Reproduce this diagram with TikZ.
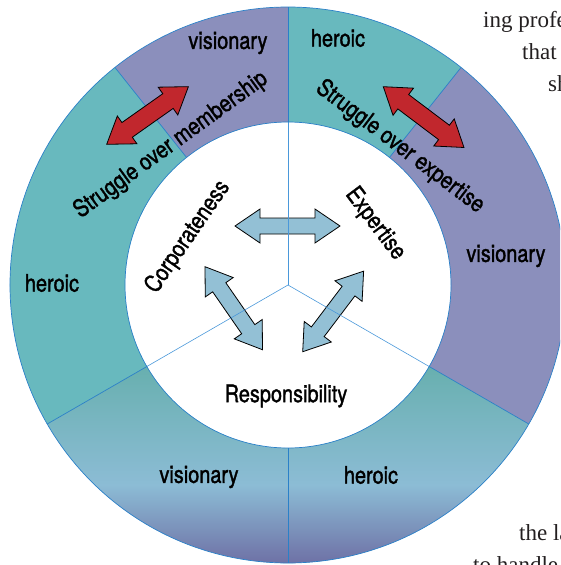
\documentclass[tikz,border=0pt]{standalone}
\usepackage{fontspec}
\setmainfont{Liberation Serif}
\newfontfamily\cn{TeX Gyre Heros}[FakeStretch=0.83, FakeBold=1.4]
\usetikzlibrary{calc}
\definecolor{ringteal}{HTML}{68B9BE}
\definecolor{ringpurp}{HTML}{8B8FBC}
\definecolor{gradtop}{HTML}{66AFAD}
\definecolor{gradmid}{HTML}{8CBCD5}
\definecolor{gradbot}{HTML}{6D6EA4}
\definecolor{edgeblue}{HTML}{2A80C8}
\definecolor{spokeblue}{HTML}{4A98DA}
\definecolor{redarr}{HTML}{C1272D}
\definecolor{bluearr}{HTML}{93C0D5}
\definecolor{ink}{HTML}{231F20}
\tikzset{
  lab/.style={font=\cn\fontsize{24}{28}\selectfont, inner sep=0pt, text=black},
  bgtext/.style={font=\fontsize{23}{28}\selectfont, inner sep=0pt, anchor=base west, text=ink},
  redarrow/.style={fill=redarr, draw=black, line width=0.8pt},
  bluearrow/.style={fill=bluearr, draw=black, line width=0.8pt},
  divline/.style={draw=edgeblue, line width=0.7pt},
  spoke/.style={draw=spokeblue, line width=0.6pt},
  pics/dblarrow/.style 2 args={code={
    \coordinate (-a) at (0,0);
    \coordinate (-b) at (#1,0);
    \draw[pic actions] (0,0) -- (25,17) -- (25,#2) -- (#1-25,#2) -- (#1-25,17)
      -- (#1,0) -- (#1-25,-17) -- (#1-25,-#2) -- (25,-#2) -- (25,-17) -- cycle;
  }}
}
\newcommand\ringsector[3]{%
  \fill[#3] ($(c)+(#1:278)$) arc[start angle=#1,end angle=#2,radius=278]
    -- ($(c)+(#2:163)$) arc[start angle=#2,end angle=#1,radius=163] -- cycle;}
\begin{document}
\begin{tikzpicture}[x=1pt,y=1pt]
\useasboundingbox (0,0) rectangle (560,-565);
\clip (0,0) rectangle (560,-565);
\coordinate (c) at (288,-285);
% background page text
\node[bgtext] (t1) at (483,-27) {ing profe};
\node[bgtext] (t2) at (522,-59) {that};
\node[bgtext] (t3) at (548,-91) {sh};
\node[bgtext] (t4) at (519,-540) {the la};
\node[bgtext] (t5) at (473,-572) {to handle};
% ring
\ringsector{51.5}{90}{ringteal}
\ringsector{90}{128.5}{ringpurp}
\ringsector{128.5}{210}{ringteal}
\ringsector{-30}{51.5}{ringpurp}
\begin{scope}
  \clip ($(c)+(210:278)$) arc[start angle=210,end angle=330,radius=278]
    -- ($(c)+(330:163)$) arc[start angle=330,end angle=210,radius=163] -- cycle;
  \shade[top color=gradtop,bottom color=gradmid] (0,-360) rectangle (560,-485);
  \shade[top color=gradmid,bottom color=gradbot] (0,-485) rectangle (560,-566);
\end{scope}
% blue arrows
\pic[bluearrow] (ba) at (235,-226) {dblarrow={105}{8}};
\pic[bluearrow, rotate=-55.3] (bb) at (205,-266.7) {dblarrow={101}{8}};
\pic[bluearrow, rotate=52.9] (bc) at (302.7,-351.7) {dblarrow={101}{8}};
% spokes
\foreach \a/\n in {90/s1,210/s2,330/s3}{
  \coordinate (\n) at ($(c)+(\a:163)$);
  \draw[spoke] (c) -- (\n);
}
% divisions
\foreach \a/\n in {51.5/d1,90/d2,128.5/d3,210/d4,270/d5,330/d6}{
  \coordinate (\n i) at ($(c)+(\a:163)$);
  \coordinate (\n o) at ($(c)+(\a:278)$);
  \draw[divline] (\n i) -- (\n o);
}
\draw[divline] (c) circle[radius=278];
\draw[divline] (c) circle[radius=163];
% red arrows
\pic[redarrow, rotate=35.2] (ra) at (106.7,-144.3) {dblarrow={100}{9}};
\pic[redarrow, rotate=-37] (rb) at (383.3,-86.7) {dblarrow={101}{9}};
% labels
\node[lab] (v1) at (228,-43) {visionary};
\node[lab] (h1) at (338,-38) {heroic};
\node[lab] (h2) at (52,-283) {heroic};
\node[lab] (v2) at (506,-256) {visionary};
\node[lab] (v3) at (199,-477) {visionary};
\node[lab] (h3) at (371,-475) {heroic};
\node[lab] (resp) at (286,-396) {Responsibility};
\node[lab, rotate=55.5] (corp) at (188,-237) {Corporateness};
\node[lab, rotate=-53] (exp) at (375,-224) {Expertise};
\node[lab, rotate=36] (smem) at (171,-145) {Struggle over membership};
\node[lab, rotate=-37] (sexp) at (400,-147) {Struggle over expertise};
\end{tikzpicture}
\end{document}
